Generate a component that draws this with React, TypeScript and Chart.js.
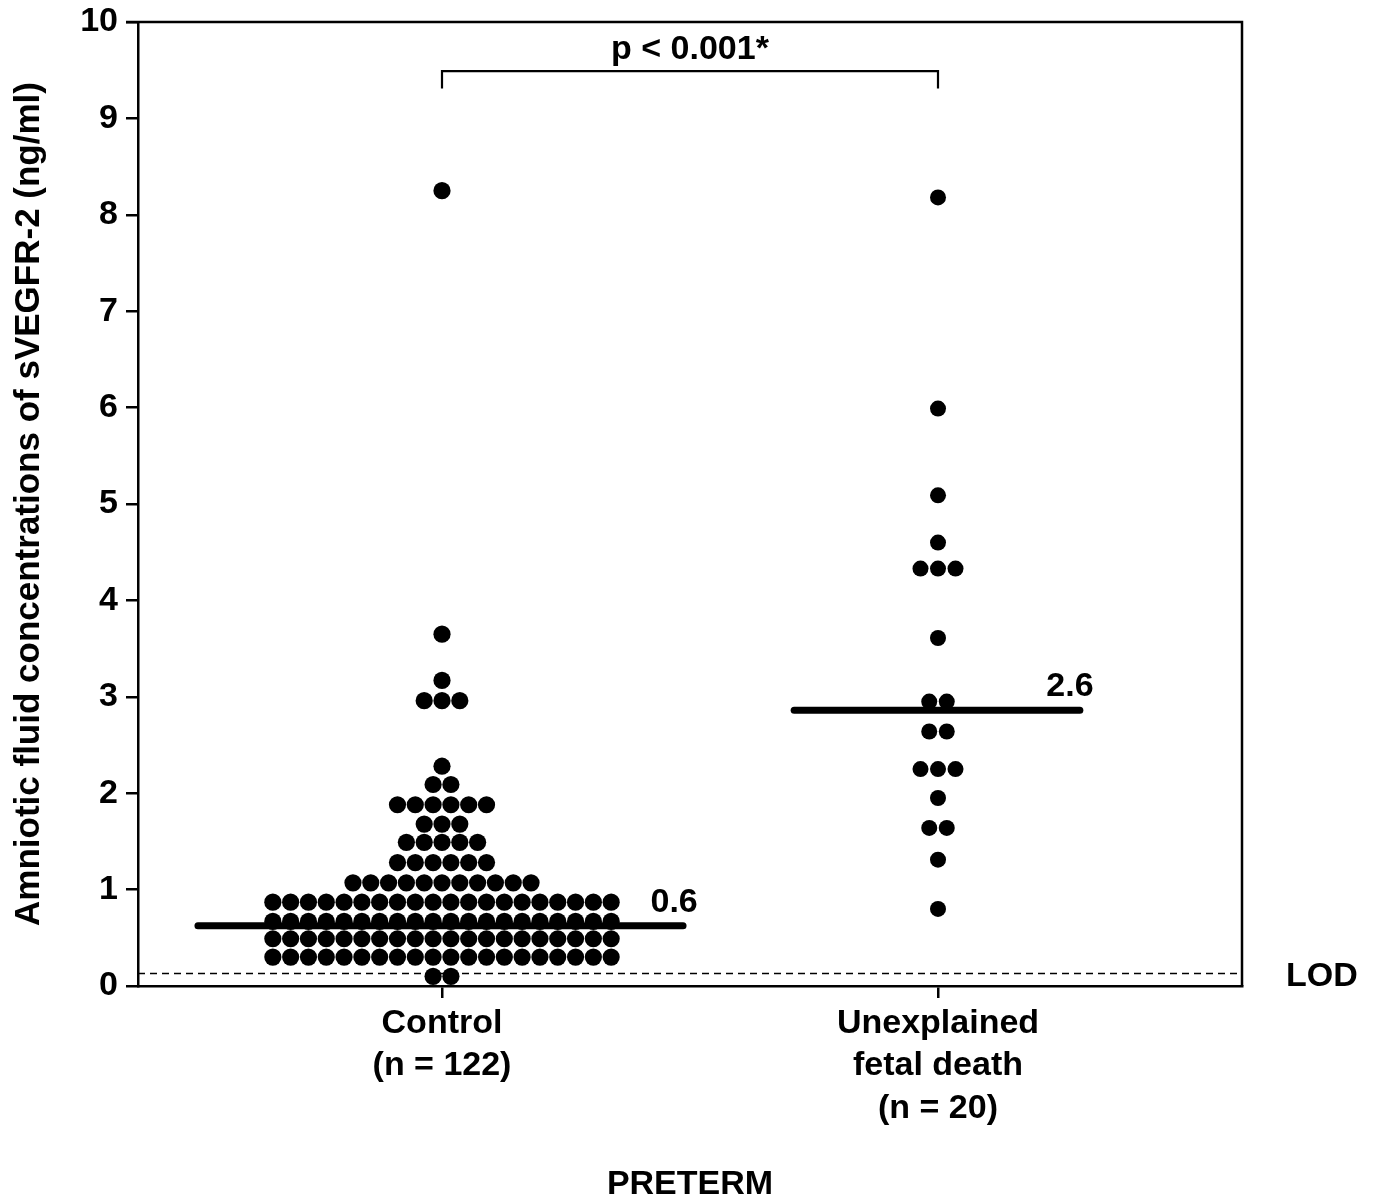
import React, { useEffect, useRef } from "react";
import { Chart, registerables } from "chart.js";

Chart.register(...registerables);

// ---------- data ----------
const categories: string[][] = [
  ["Control", "(n = 122)"],
  ["Unexplained", "fetal death", "(n = 20)"],
];
const categoryPositions = [1, 2];

// dot-plot rows: value of each row and number of dots in that row
const controlRowValues = [8.25, 3.65, 3.17, 2.96, 2.28, 2.09, 1.88, 1.68, 1.49, 1.28, 1.07, 0.87, 0.67, 0.49, 0.3, 0.1];
const controlRowCounts = [1, 1, 1, 3, 1, 2, 6, 3, 5, 6, 11, 20, 20, 20, 20, 2];

const ufdRowValues = [8.18, 5.99, 5.09, 4.6, 4.33, 3.61, 2.95, 2.64, 2.25, 1.95, 1.64, 1.31, 0.8];
const ufdRowCounts = [1, 1, 1, 1, 3, 1, 2, 2, 3, 1, 2, 1, 1];

const medianValues = [0.625, 2.86];
const medianLabels = ["0.6", "2.6"];
const lodValue = 0.13;
const lodLabel = "LOD";
const pValueText = "p < 0.001*";
const xAxisTitle = "PRETERM";
const yAxisTitle = "Amniotic fluid concentrations of sVEGFR-2 (ng/ml)";
const yMin = 0;
const yMax = 10;
const yStep = 1;

// ---------- layout / style constants ----------
const X_PAD = 0.6129;
const CONTROL_SPACING = 0.0359;
const UFD_SPACING = 0.0353;
const MEDIAN_HALF_WIDTHS = [
  [0.492, 0.486],
  [0.29, 0.286],
];
const BRACKET_TOP = 9.49;
const BRACKET_BOTTOM = 9.31;
const P_TEXT_Y = 9.71;
const MEDIAN_LABEL_POS = [
  { dx: 0.468, y: 0.87 },
  { dx: 0.266, y: 3.11 },
];
const LOD_LABEL_POS = { x: 2.774, y: 0.093 };

const FONT_FAMILY = "'Liberation Sans', Arial, Helvetica, sans-serif";
const FONT_SIZE = 34;

function swarm(center: number, values: number[], counts: number[], spacing: number) {
  const pts: { x: number; y: number }[] = [];
  values.forEach((v, r) => {
    const n = counts[r];
    for (let i = 0; i < n; i++) {
      pts.push({ x: center + (i - (n - 1) / 2) * spacing, y: v });
    }
  });
  return pts;
}

const annotationPlugin = {
  id: "annotations",
  afterDraw(chart: any) {
    const { ctx, chartArea, scales } = chart;
    const xs = scales.x;
    const ys = scales.y;
    ctx.save();
    // top & right frame
    ctx.strokeStyle = "#000";
    ctx.lineWidth = 2.5;
    ctx.beginPath();
    ctx.moveTo(chartArea.left - 12, chartArea.top);
    ctx.lineTo(chartArea.right, chartArea.top);
    ctx.lineTo(chartArea.right, chartArea.bottom);
    ctx.stroke();

    ctx.fillStyle = "#000";
    ctx.font = `bold ${FONT_SIZE}px ${FONT_FAMILY}`;
    ctx.textAlign = "center";
    ctx.textBaseline = "middle";
    // p value
    ctx.fillText(
      pValueText,
      xs.getPixelForValue((categoryPositions[0] + categoryPositions[1]) / 2),
      ys.getPixelForValue(P_TEXT_Y)
    );
    // median labels
    medianLabels.forEach((lab, i) => {
      ctx.fillText(
        lab,
        xs.getPixelForValue(categoryPositions[i] + MEDIAN_LABEL_POS[i].dx),
        ys.getPixelForValue(MEDIAN_LABEL_POS[i].y)
      );
    });
    // LOD label
    ctx.fillText(lodLabel, xs.getPixelForValue(LOD_LABEL_POS.x), ys.getPixelForValue(LOD_LABEL_POS.y));
    ctx.restore();
  },
};

export default function App() {
  const ref = useRef<HTMLCanvasElement | null>(null);

  useEffect(() => {
    if (!ref.current) return;
    const font = { family: FONT_FAMILY, size: FONT_SIZE, weight: "bold" as const };

    const xMin = categoryPositions[0] - X_PAD;
    const xMax = categoryPositions[1] + X_PAD;

    const datasets: any[] = [
      {
        label: "Control",
        data: swarm(categoryPositions[0], controlRowValues, controlRowCounts, CONTROL_SPACING),
        backgroundColor: "#000",
        borderWidth: 0,
        pointRadius: 8.6,
        pointHoverRadius: 8.6,
        order: 2,
      },
      {
        label: "Unexplained fetal death",
        data: swarm(categoryPositions[1], ufdRowValues, ufdRowCounts, UFD_SPACING),
        backgroundColor: "#000",
        borderWidth: 0,
        pointRadius: 8,
        pointHoverRadius: 8,
        order: 2,
      },
      ...medianValues.map((m, i) => ({
        label: "median " + i,
        data: [
          { x: categoryPositions[i] - MEDIAN_HALF_WIDTHS[i][0], y: m },
          { x: categoryPositions[i] + MEDIAN_HALF_WIDTHS[i][1], y: m },
        ],
        showLine: true,
        borderColor: "#000",
        borderWidth: 7,
        borderCapStyle: "round",
        pointRadius: 0,
        pointHoverRadius: 0,
        order: 0,
      })),
      {
        label: "LOD",
        data: [
          { x: xMin, y: lodValue },
          { x: xMax, y: lodValue },
        ],
        showLine: true,
        borderColor: "#000",
        borderWidth: 1.5,
        borderDash: [7, 5],
        pointRadius: 0,
        pointHoverRadius: 0,
        order: 3,
      },
      {
        label: "bracket",
        data: [
          { x: categoryPositions[0], y: BRACKET_BOTTOM },
          { x: categoryPositions[0], y: BRACKET_TOP },
          { x: categoryPositions[1], y: BRACKET_TOP },
          { x: categoryPositions[1], y: BRACKET_BOTTOM },
        ],
        showLine: true,
        borderColor: "#000",
        borderWidth: 2.2,
        borderJoinStyle: "miter",
        pointRadius: 0,
        pointHoverRadius: 0,
        order: 0,
      },
    ];

    const chart = new Chart(ref.current, {
      type: "scatter",
      data: { datasets },
      options: {
        animation: false,
        responsive: false,
        maintainAspectRatio: false,
        events: [],
        layout: { padding: { top: 14, right: 124, left: 0, bottom: 0 } },
        plugins: {
          legend: { display: false },
          tooltip: { enabled: false },
        },
        scales: {
          x: {
            type: "linear",
            min: xMin,
            max: xMax,
            afterBuildTicks: (s: any) => {
              s.ticks = categoryPositions.map((v) => ({ value: v }));
            },
            afterFit: (s: any) => {
              s.height = 213;
            },
            grid: {
              drawOnChartArea: false,
              drawTicks: true,
              tickLength: 12,
              color: "#000",
              lineWidth: 2.5,
            },
            border: { display: true, color: "#000", width: 2.5 },
            ticks: {
              autoSkip: false,
              maxRotation: 0,
              padding: 4,
              color: "#000",
              font: { ...font, lineHeight: 1.25 },
              callback: (v: any) => categories[categoryPositions.indexOf(Number(v))] ?? "",
            },
            title: {
              display: true,
              text: xAxisTitle,
              color: "#000",
              font: { ...font, lineHeight: 1 },
              padding: { top: 0, bottom: -3 },
            },
          },
          y: {
            type: "linear",
            min: yMin,
            max: yMax,
            afterFit: (s: any) => {
              s.width = 130;
            },
            grid: {
              drawOnChartArea: false,
              drawTicks: true,
              tickLength: 12,
              color: "#000",
              lineWidth: 2.5,
            },
            border: { display: true, color: "#000", width: 2.5 },
            ticks: {
              stepSize: yStep,
              padding: 8,
              color: "#000",
              font: { ...font, lineHeight: 0.2 },
            },
            title: {
              display: true,
              text: yAxisTitle,
              color: "#000",
              font: { ...font, size: 35, lineHeight: 1 },
              padding: { top: 4, bottom: 0 },
            },
          },
        },
      },
      plugins: [annotationPlugin],
    });
    return () => chart.destroy();
  }, []);

  return (
    <canvas
      ref={ref}
      width={1358}
      height={1191}
      style={{ display: "block", width: "1358px", height: "1191px" }}
    />
  );
}
